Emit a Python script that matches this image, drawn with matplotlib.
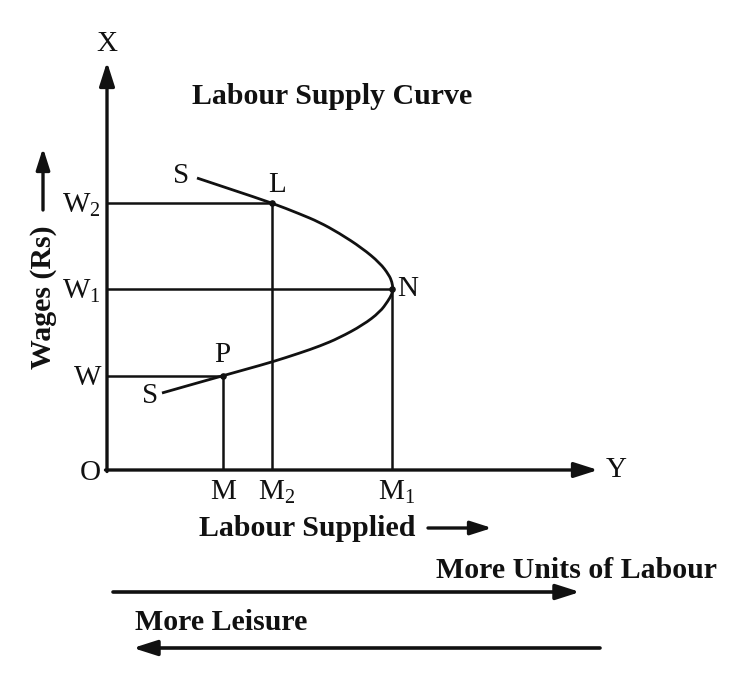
import matplotlib
matplotlib.use("Agg")
import matplotlib.pyplot as plt
from matplotlib.path import Path
from matplotlib.patches import PathPatch

plt.rcParams['font.family'] = ['Liberation Serif', 'DejaVu Serif']
plt.rcParams['mathtext.fontset'] = 'custom'
plt.rcParams['mathtext.rm'] = 'Liberation Serif'
plt.rcParams['mathtext.it'] = 'Liberation Serif:italic'
plt.rcParams['mathtext.bf'] = 'Liberation Serif:bold'

# Data (units measured from origin O)
wage_labels = ["W", "W$_1$", "W$_2$"]
wage_levels = [94, 181, 267]
labour_labels = ["M", "M$_2$", "M$_1$"]
labour_levels = [116, 165, 285]

# supply curve points (labour, wage), bottom S to top S
curve_labour = [55, 83, 115, 140, 165, 193, 213, 232, 256, 273, 281, 285, 286,
                285, 282, 273, 255, 232, 212, 193, 165, 126, 90]
curve_wage = [77, 85, 94, 101, 108, 117, 124, 132, 145, 158, 169, 176, 181,
              188, 195, 207, 222, 237, 248, 256, 267, 280, 292]

# Named points: P (W, M), N (W1, M1), L (W2, M2)
point_names = ["P", "N", "L"]
point_labour = [116, 285, 165]
point_wage = [94, 181, 267]

fig = plt.figure(figsize=(7.38, 6.94), dpi=100)
ax = fig.add_axes([0, 0, 1, 1])
ax.set_xlim(-107, 631)
ax.set_ylim(-224, 470)
ax.axis('off')

black = '#111111'
head = '-|>,head_length=0.72,head_width=0.23'

# axes
ax.annotate('', xy=(0, 408), xytext=(0, -1.5),
            arrowprops=dict(arrowstyle=head, mutation_scale=20, lw=2.4, color=black,
                            shrinkA=0, shrinkB=0))
ax.annotate('', xy=(491, 0), xytext=(-1.5, 0),
            arrowprops=dict(arrowstyle=head, mutation_scale=20, lw=2.4, color=black,
                            shrinkA=0, shrinkB=0))

# guide lines
for i in range(3):
    ax.plot([0, point_labour[i]], [point_wage[i], point_wage[i]], color=black, lw=1.8,
            solid_capstyle='butt')
    ax.plot([point_labour[i], point_labour[i]], [0, point_wage[i]], color=black, lw=1.8,
            solid_capstyle='butt')

# curve: smooth quadratic path through the read points (points act as controls)
pts = list(zip(curve_labour, curve_wage))
verts = [pts[0]]
codes = [Path.MOVETO]
for i in range(1, len(pts) - 1):
    mid = ((pts[i][0] + pts[i + 1][0]) / 2, (pts[i][1] + pts[i + 1][1]) / 2)
    if i == len(pts) - 2:
        mid = pts[-1]
    verts += [pts[i], mid]
    codes += [Path.CURVE3, Path.CURVE3]
ax.add_patch(PathPatch(Path(verts, codes), facecolor='none', edgecolor=black, lw=2.0,
                       capstyle='butt'))
ax.scatter(point_labour, point_wage, s=14, color=black, zorder=5)

fs = 21
# axis letters
ax.text(0, 426, "X", fontsize=fs, ha='center', va='center', color=black)
ax.text(509, 0, "Y", fontsize=fs, ha='center', va='center', color=black)
ax.text(-17, -3, "O", fontsize=fs, ha='center', va='center', color=black)

for lab, w in zip(wage_labels, wage_levels):
    ax.text(-6, w - 2, lab, fontsize=fs, ha='right', va='center', color=black)
for lab, m in zip(labour_labels, labour_levels):
    ax.text(m + (5 if lab != "M" else 0), -22, lab, fontsize=fs, ha='center', va='center', color=black)

# point labels
ax.text(301, 181, "N", fontsize=fs, ha='center', va='center', color=black)
ax.text(170, 285, "L", fontsize=fs, ha='center', va='center', color=black)
ax.text(115, 115, "P", fontsize=fs, ha='center', va='center', color=black)
ax.text(74, 294, "S", fontsize=fs, ha='center', va='center', color=black)
ax.text(43, 74, "S", fontsize=fs, ha='center', va='center', color=black)

bfs = 21.5
ax.text(225, 373, "Labour Supply Curve", fontsize=bfs, fontweight='bold',
        ha='center', va='center', color=black)
ax.text(-64, 173, "Wages (Rs)", fontsize=bfs, fontweight='bold', rotation=90,
        ha='center', va='center', color=black)
ax.annotate('', xy=(-64, 322), xytext=(-64, 260),
            arrowprops=dict(arrowstyle=head, mutation_scale=18, lw=2.4, color=black,
                            shrinkA=0, shrinkB=0))

ax.text(200, -58, "Labour Supplied", fontsize=bfs, fontweight='bold',
        ha='center', va='center', color=black)
ax.annotate('', xy=(385, -58), xytext=(321, -58),
            arrowprops=dict(arrowstyle=head, mutation_scale=18, lw=2.4, color=black,
                            shrinkA=0, shrinkB=0))

ax.text(329, -100, "More Units of Labour", fontsize=bfs, fontweight='bold',
        ha='left', va='center', color=black)
ax.annotate('', xy=(473, -122), xytext=(6, -122),
            arrowprops=dict(arrowstyle=head, mutation_scale=20, lw=2.6, color=black,
                            shrinkA=0, shrinkB=0))

ax.text(28, -153, "More Leisure", fontsize=bfs, fontweight='bold',
        ha='left', va='center', color=black)
ax.annotate('', xy=(26, -178), xytext=(493, -178),
            arrowprops=dict(arrowstyle=head, mutation_scale=20, lw=2.6, color=black,
                            shrinkA=0, shrinkB=0))

fig.savefig("out.png", dpi=100, facecolor='white')
